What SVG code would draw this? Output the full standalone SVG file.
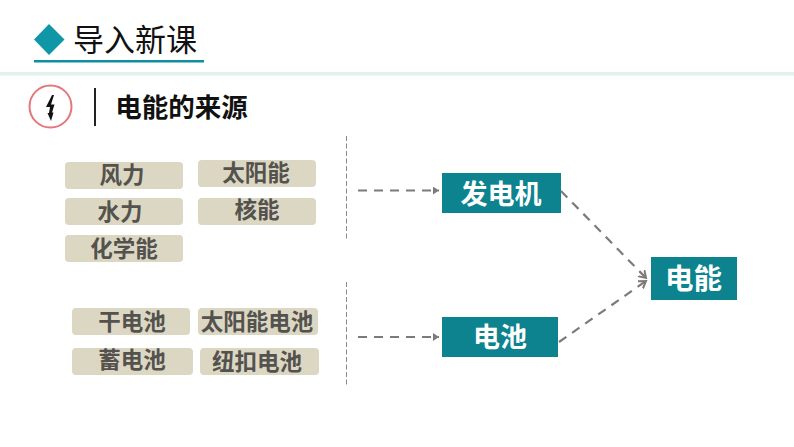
<svg xmlns="http://www.w3.org/2000/svg" width="794" height="447" viewBox="0 0 794 447">
<defs>
<marker id="tri" markerUnits="userSpaceOnUse" markerWidth="9" markerHeight="9" refX="6" refY="4" orient="auto"><path d="M0,0L6,4L0,8Z" fill="#7f7a78"/></marker>
<marker id="open" markerUnits="userSpaceOnUse" markerWidth="10" markerHeight="12" refX="7" refY="5" orient="auto"><path d="M0,0.5L7,5L0,9.5" fill="none" stroke="#7f7a78" stroke-width="2"/></marker>
</defs>
<style>
text{font-family:"Noto Sans CJK SC","Liberation Sans",sans-serif;text-anchor:middle}
.tag rect{fill:#dcd7c3}
.tag text{font-size:22.500px;font-weight:700;fill:#54524e}
.box rect{fill:#0c838e}
.box text{font-size:27px;font-weight:700;fill:#fff}
.dash{fill:none;stroke:#7f7a78;stroke-width:2.200;stroke-dasharray:9 7}
.sep{fill:none;stroke:#8a8a8a;stroke-width:1;stroke-dasharray:5 2.500}
</style>
<rect width="794" height="447" fill="#fff"/>
<g id="header">
<path d="M49,24L64.500,39.500L49,55L34,39.500Z" fill="#0f97a8"/>
<text x="135" y="51" style="font-size:31px;font-weight:400;fill:#111">导入新课</text>
<rect x="34" y="60" width="170" height="2.500" fill="#0f8e9e"/>
<rect x="0" y="72" width="794" height="3.500" fill="#e2f1ed"/>
<circle cx="50.500" cy="106.500" r="21" fill="#fff" stroke="#e4777d" stroke-width="2"/>
<path d="M52,95L46,107L50,107L49,113L47.500,113L51,121L53.500,112.500L52,112.500L54.500,104.500L51,104.500L54,95Z" fill="#111"/>
<rect x="94" y="88" width="2" height="38" fill="#222"/>
<text x="181.500" y="117" style="font-size:26.500px;font-weight:700;fill:#111">电能的来源</text>
</g>
<g id="tag-fengli" class="tag"><rect x="65" y="162" width="118" height="27" rx="4"/><text x="122" y="183">风力</text></g>
<g id="tag-taiyangneng" class="tag"><rect x="198" y="160" width="118" height="27" rx="4"/><text x="256" y="181">太阳能</text></g>
<g id="tag-shuili" class="tag"><rect x="65" y="198" width="118" height="27" rx="4"/><text x="120" y="220">水力</text></g>
<g id="tag-heneng" class="tag"><rect x="198" y="198" width="118" height="27" rx="4"/><text x="257" y="218">核能</text></g>
<g id="tag-huaxueneng" class="tag"><rect x="65" y="235" width="118" height="27" rx="4"/><text x="124" y="257">化学能</text></g>
<g id="tag-gandianchi" class="tag"><rect x="72" y="308" width="118" height="27" rx="4"/><text x="132" y="330">干电池</text></g>
<g id="tag-taiyangnengdianchi" class="tag"><rect x="198" y="308" width="120" height="27" rx="4"/><text x="257" y="330">太阳能电池</text></g>
<g id="tag-xudianchi" class="tag"><rect x="72" y="348" width="121" height="27" rx="4"/><text x="132" y="368">蓄电池</text></g>
<g id="tag-niukoudianchi" class="tag"><rect x="200" y="348" width="119" height="27" rx="4"/><text x="257" y="370">纽扣电池</text></g>
<g id="box-fadianji" class="box"><rect x="442" y="173" width="119" height="40"/><text x="501" y="204">发电机</text></g>
<g id="box-dianchi" class="box"><rect x="442" y="317" width="116" height="40"/><text x="500" y="347">电池</text></g>
<g id="box-dianneng" class="box"><rect x="651" y="257" width="86" height="43"/><text x="693.500" y="289" style="font-size:28.500px">电能</text></g>
<g id="connectors">
<path class="sep" d="M346.500,136V241"/>
<path class="sep" d="M346.500,282V387"/>
<path class="dash" d="M358,190.500H439" marker-end="url(#tri)"/>
<path class="dash" d="M358,337H439" marker-end="url(#tri)"/>
<path class="dash" d="M561,191L646,278" marker-end="url(#open)"/>
<path class="dash" d="M559,342L646,281" marker-end="url(#open)"/>
</g>
</svg>
